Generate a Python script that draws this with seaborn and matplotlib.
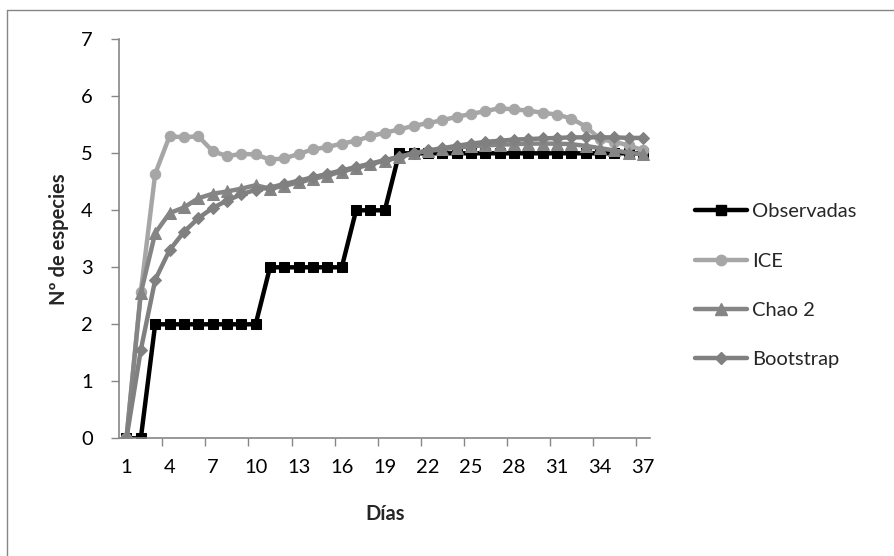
import matplotlib
matplotlib.use("Agg")
import matplotlib.pyplot as plt
import seaborn as sns
from matplotlib.ticker import FixedLocator
from matplotlib.lines import Line2D

# Species accumulation per sampling day
days = list(range(1, 38))
tick_days = [1, 4, 7, 10, 13, 16, 19, 22, 25, 28, 31, 34, 37]

observadas = [0, 0, 2, 2, 2, 2, 2, 2, 2, 2,
              3, 3, 3, 3, 3, 3, 4, 4, 4, 5,
              5, 5, 5, 5, 5, 5, 5, 5, 5, 5,
              5, 5, 5, 5, 5, 5, 5]
ice = [0, 2.57, 4.64, 5.30, 5.28, 5.30, 5.04, 4.95, 4.99, 4.98,
       4.89, 4.91, 4.99, 5.07, 5.11, 5.17, 5.22, 5.30, 5.36, 5.42,
       5.48, 5.53, 5.58, 5.64, 5.69, 5.74, 5.79, 5.77, 5.75, 5.71,
       5.68, 5.61, 5.47, 5.25, 5.20, 5.14, 5.05]
chao2 = [0, 2.55, 3.60, 3.95, 4.05, 4.21, 4.29, 4.33, 4.38, 4.44,
         4.38, 4.43, 4.49, 4.55, 4.61, 4.68, 4.74, 4.81, 4.87, 4.93,
         5.00, 5.04, 5.07, 5.10, 5.12, 5.14, 5.15, 5.16, 5.17, 5.17,
         5.17, 5.16, 5.13, 5.09, 5.05, 5.01, 4.98]
bootstrap = [0, 1.55, 2.78, 3.30, 3.62, 3.86, 4.04, 4.17, 4.28, 4.36,
             4.40, 4.46, 4.52, 4.58, 4.64, 4.70, 4.76, 4.82, 4.88, 4.94,
             5.00, 5.05, 5.09, 5.13, 5.17, 5.20, 5.22, 5.24, 5.25, 5.26,
             5.27, 5.28, 5.28, 5.28, 5.28, 5.27, 5.27]

series_names = ["Observadas", "ICE", "Chao 2", "Bootstrap"]
series_values = [observadas, ice, chao2, bootstrap]
series_colors = ["#000000", "#a6a6a6", "#858585", "#808080"]
series_markers = ["s", "o", "^", "D"]
series_sizes = [7.5, 7.5, 8.5, 6.5]

sns.set_style("white")
plt.rcParams["font.family"] = ["Lato", "DejaVu Sans"]

AXIS_GRAY = "#868686"
FS = 14.5

fig = plt.figure(figsize=(8.95, 5.56), dpi=100)
ax = fig.add_axes([0.1333, 0.2117, 0.5933, 0.7176])

for name, vals, col, mk, ms in zip(series_names, series_values, series_colors,
                                   series_markers, series_sizes):
    sns.lineplot(x=days, y=vals, ax=ax, color=col, marker=mk, markersize=ms,
                 markeredgecolor=col, markerfacecolor=col, linewidth=3.2,
                 label=name, legend=False)

ax.set_xlim(0.5, 37.5)
ax.set_ylim(0, 7)
ax.set_xticks(tick_days)
ax.set_xticklabels([str(d) for d in tick_days])
ax.xaxis.set_minor_locator(FixedLocator([3.5 + 3 * k for k in range(12)]))
ax.set_yticks(range(0, 8))

ax.tick_params(axis="x", which="major", length=0, pad=15, labelsize=FS,
               labelcolor="black")
ax.tick_params(axis="x", which="minor", length=6, width=1, color=AXIS_GRAY,
               direction="out", bottom=True)
ax.tick_params(axis="y", which="major", length=6, width=1, color=AXIS_GRAY,
               direction="out", left=True, pad=13, labelsize=FS,
               labelcolor="black")

for side in ["top", "right"]:
    ax.spines[side].set_visible(False)
for side in ["left", "bottom"]:
    ax.spines[side].set_color(AXIS_GRAY)
    ax.spines[side].set_linewidth(1.2)

ax.set_xlabel("Días", fontsize=FS, fontweight="bold", va="top")
ax.xaxis.set_label_coords(0.5, -0.165)
ax.set_ylabel("Nº de especies", fontsize=FS, fontweight="bold")
ax.yaxis.set_label_coords(-0.095, 0.5)

handles = [Line2D([], [], color=c, marker=m, markersize=s, markeredgecolor=c,
                  linewidth=3.2)
           for c, m, s in zip(series_colors, series_markers, series_sizes)]
fig.legend(handles, series_names, loc="center left",
           bbox_to_anchor=(0.7765, 0.486), frameon=False, fontsize=FS,
           handlelength=2.6, handletextpad=0.25, labelspacing=1.6,
           borderpad=0, borderaxespad=0)

# chart-area frame (top and left edges)
fig.add_artist(Line2D([7 / 895, 7 / 895], [0, 1 - 10 / 556],
                      transform=fig.transFigure, color=AXIS_GRAY, linewidth=1))
fig.add_artist(Line2D([7 / 895, 1], [1 - 10 / 556, 1 - 10 / 556],
                      transform=fig.transFigure, color=AXIS_GRAY, linewidth=1))

fig.savefig("out.png", dpi=100)
